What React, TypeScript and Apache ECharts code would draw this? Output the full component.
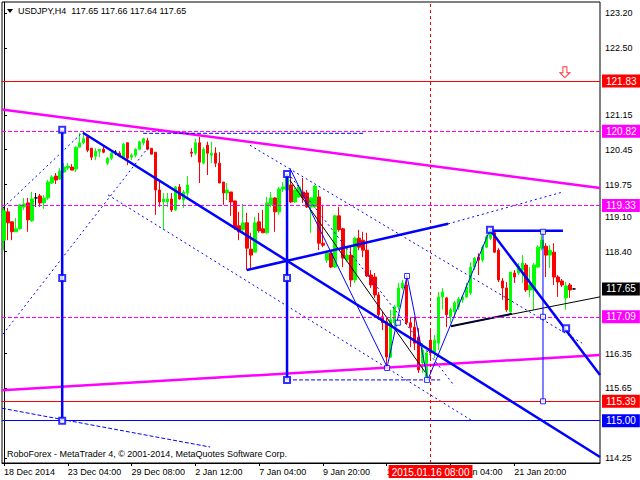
import React, { useEffect, useRef } from "react";
import * as echarts from "echarts";

// ---------- data ----------
const symbolTitle = "USDJPY,H4  117.65 117.66 117.64 117.65";
const watermark = "RoboForex - MetaTrader 4, \u00A9 2001-2014, MetaQuotes Software Corp.";
const barCount = 150; // visible bar slots (4-hour bars), incl. empty space at right
const xTickLabels = [
  "18 Dec 2014", "23 Dec 04:00", "29 Dec 08:00", "2 Jan 12:00", "7 Jan 04:00",
  "9 Jan 20:00", "14 Jan 12:00", "19 Jan 04:00", "21 Jan 20:00",
];
const xTickStep = 16;
const yTickLabels = [123.2, 122.5, 121.15, 120.45, 119.75, 119.1, 118.4, 116.35, 115.65, 114.25];
const yMin = 114.149;
const yMax = 123.421;

// [open, high, low, close]
const ohlc: number[][] = [
  [118.63, 119.30, 118.43, 119.22], [119.20, 119.28, 118.63, 118.98], [119.00, 119.00, 118.63, 118.80],
  [118.80, 119.08, 118.80, 118.86], [118.86, 119.36, 118.84, 119.34], [119.30, 119.48, 119.24, 119.36],
  [119.38, 119.48, 118.80, 119.04], [119.02, 119.60, 119.00, 119.46], [119.48, 119.58, 119.30, 119.48],
  [119.52, 119.56, 119.30, 119.38], [119.38, 119.54, 119.26, 119.48], [119.48, 119.84, 119.44, 119.80],
  [119.78, 119.94, 119.76, 119.90], [119.92, 119.98, 119.76, 119.84], [119.86, 120.08, 119.84, 120.02],
  [120.00, 120.18, 119.98, 120.10], [120.08, 120.18, 120.04, 120.12], [120.10, 120.16, 120.04, 120.04],
  [120.06, 120.52, 120.00, 120.50], [120.50, 120.79, 120.50, 120.59], [120.59, 120.79, 120.56, 120.67],
  [120.71, 120.71, 120.40, 120.44], [120.48, 120.48, 120.24, 120.30], [120.32, 120.48, 120.24, 120.42],
  [120.42, 120.46, 120.30, 120.46], [120.46, 120.52, 120.38, 120.40], [120.18, 120.30, 120.14, 120.28],
  [120.28, 120.40, 120.24, 120.38], [120.40, 120.44, 120.34, 120.40], [120.38, 120.42, 120.30, 120.32],
  [120.30, 120.59, 120.30, 120.56], [120.59, 120.59, 120.14, 120.28], [120.30, 120.38, 120.24, 120.34],
  [120.34, 120.48, 120.30, 120.46], [120.46, 120.63, 120.44, 120.61], [120.59, 120.69, 120.54, 120.67],
  [120.63, 120.69, 120.44, 120.46], [120.48, 120.48, 120.36, 120.36], [120.40, 120.40, 119.14, 119.64],
  [119.64, 119.84, 119.30, 119.40], [119.40, 119.58, 118.84, 119.46], [119.40, 119.58, 119.30, 119.46],
  [119.46, 119.58, 119.20, 119.24], [119.24, 119.72, 119.22, 119.70], [119.70, 119.76, 119.44, 119.46],
  [119.44, 119.64, 119.28, 119.60], [119.58, 119.92, 119.50, 119.74], [120.40, 120.48, 120.30, 120.38],
  [120.38, 120.67, 120.34, 120.59], [120.59, 120.71, 119.78, 120.20], [120.18, 120.50, 120.16, 120.46],
  [120.54, 120.61, 119.94, 120.38], [120.34, 120.61, 120.18, 120.38], [120.38, 120.50, 120.10, 120.18],
  [120.18, 120.40, 119.78, 119.78], [119.80, 119.80, 119.34, 119.58], [119.58, 119.78, 119.44, 119.64],
  [119.60, 119.60, 119.12, 119.40], [119.42, 119.42, 118.84, 118.88], [118.92, 119.20, 118.63, 118.80],
  [118.84, 119.36, 118.78, 118.98], [118.98, 119.18, 118.03, 118.47], [118.45, 118.78, 118.03, 118.33],
  [118.39, 119.10, 118.39, 118.98], [119.00, 119.18, 118.78, 118.82], [118.86, 119.24, 118.78, 118.78],
  [118.78, 119.50, 118.76, 119.38], [119.34, 119.60, 119.30, 119.48], [119.48, 119.50, 118.80, 119.20],
  [119.20, 119.70, 119.14, 119.66], [119.66, 119.80, 119.60, 119.70], [119.64, 119.98, 119.60, 119.88],
  [119.74, 119.90, 119.38, 119.40], [119.40, 119.68, 119.38, 119.64], [119.50, 119.74, 119.48, 119.70],
  [119.60, 119.88, 119.38, 119.48], [119.58, 119.64, 119.28, 119.30], [119.30, 119.50, 118.78, 119.48],
  [119.30, 119.74, 119.28, 119.72], [119.50, 119.64, 118.43, 118.57], [118.57, 119.34, 118.49, 118.53],
  [118.23, 118.39, 118.17, 118.37], [118.37, 118.39, 118.07, 118.09], [118.09, 119.14, 118.07, 119.12],
  [119.12, 119.30, 118.80, 118.84], [118.86, 118.88, 118.09, 118.27], [118.23, 118.47, 118.19, 118.33],
  [118.33, 118.53, 117.69, 117.83], [117.83, 118.70, 117.77, 118.67], [118.67, 118.84, 118.43, 118.49],
  [118.63, 118.80, 118.29, 118.43], [118.43, 118.78, 117.89, 117.91], [117.93, 118.03, 117.67, 117.73],
  [117.89, 117.97, 117.47, 117.53], [117.53, 117.59, 117.03, 117.13], [117.09, 117.19, 116.82, 116.97],
  [116.99, 117.09, 116.08, 116.28], [116.28, 117.23, 116.26, 117.03], [116.97, 117.33, 116.88, 117.29],
  [117.29, 117.77, 117.23, 117.67], [117.67, 117.83, 117.63, 117.77], [117.73, 117.93, 116.93, 116.97],
  [116.97, 117.07, 116.48, 116.88], [116.88, 117.09, 116.42, 116.56], [116.68, 116.86, 115.96, 116.02],
  [116.16, 116.56, 115.96, 116.42], [115.88, 116.40, 115.86, 116.36], [116.62, 116.86, 116.26, 116.36],
  [116.38, 116.72, 116.26, 116.62], [116.56, 117.59, 116.42, 117.49], [117.49, 117.67, 117.23, 117.59],
  [117.47, 117.49, 116.88, 117.13], [117.09, 117.27, 116.97, 117.23], [117.19, 117.41, 117.07, 117.37],
  [117.29, 117.49, 117.23, 117.45], [117.43, 117.53, 117.37, 117.49], [117.49, 117.77, 117.47, 117.69],
  [117.57, 118.19, 117.53, 118.09], [118.09, 118.29, 118.03, 118.27], [118.29, 118.37, 117.93, 118.23],
  [118.23, 118.53, 118.19, 118.49], [118.49, 118.74, 118.47, 118.70], [118.67, 118.88, 118.63, 118.82],
  [118.78, 118.84, 118.37, 118.39], [118.43, 118.47, 117.79, 117.83], [117.81, 117.87, 117.43, 117.67],
  [117.67, 117.79, 117.19, 117.23], [117.19, 117.99, 117.17, 117.99], [117.97, 118.03, 117.77, 117.89],
  [117.97, 118.17, 117.93, 118.11], [118.03, 118.33, 117.77, 118.17], [118.13, 118.17, 117.59, 117.63],
  [117.63, 118.09, 117.49, 117.73], [117.63, 118.17, 117.23, 118.13], [118.09, 118.53, 118.07, 118.49],
  [118.47, 118.80, 118.43, 118.63], [118.51, 118.57, 117.89, 118.33], [118.33, 118.53, 118.07, 118.43],
  [118.39, 118.57, 117.73, 117.89], [117.89, 117.93, 117.49, 117.79], [117.81, 117.85, 117.69, 117.73],
  [117.47, 117.79, 117.23, 117.71], [117.73, 117.77, 117.47, 117.63], [117.65, 117.66, 117.64, 117.65],
];

// horizontal price levels
const levelPrices = [121.83, 120.82, 119.33, 117.09, 115.39, 115.0];
const levelColors = ["#ff0000", "#ff00ff", "#ff00ff", "#ff00ff", "#ff0000", "#0000ff"];
const levelDashed = [false, true, true, true, false, false];
const lastPrice = 117.65;
const markerBarIndex = 107; // vertical line at 2015.01.16 08:00
const markerBarLabel = "2015.01.16 08:00";
const sellArrow = [140.7, 122.01];

// drawn objects, points as [bar index, price]
const magentaLines = [
  [[-0.5, 121.26], [149.5, 119.68]],
  [[-0.5, 115.61], [149.5, 116.32]],
];
const blueThickLines = [
  [[19.8, 120.79], [149.5, 114.27]],
  [[121.9, 118.84], [149.5, 115.92]],
  [[121.9, 118.82], [140.2, 118.82]],
  [[60.9, 118.03], [111.4, 118.96]],
  [[14.6, 120.85], [14.6, 115.0]],
  [[71.0, 119.96], [71.0, 115.82]],
];
const blueThinLines = [
  [[135.2, 118.8], [135.2, 115.39]],
  [[71.7, 120.08], [96.1, 116.08], [101.1, 117.91], [106.3, 115.82], [121.9, 118.84]],
];
const blueDashedLines = [
  [[71.0, 115.82], [109.4, 115.82]],
  [[34.9, 120.78], [90.5, 120.78]],
  [[-0.5, 115.25], [51.7, 114.47]],
];
const blueDottedLines = [
  [[111.4, 118.96], [140.2, 119.6]],
  [[-0.25, 116.74], [36.6, 120.54]],
  [[-0.25, 119.28], [19.6, 120.79]],
  [[26.1, 119.54], [117.4, 115.0]],
  [[61.7, 120.54], [145.0, 116.56]],
  [[72.0, 119.9], [113.0, 115.7]],
];
const blackThinLines = [
  [[71.7, 119.84], [105.6, 115.98]],
  [[112.1, 116.9], [149.5, 117.49]],
];
const blackThickLines = [[[112.1, 116.9], [127.4, 117.15]]];
const bigSquares = [
  [14.6, 120.85], [14.6, 117.87], [14.6, 115.0],
  [71.0, 119.96], [71.0, 117.87], [71.0, 115.82],
  [121.9, 118.84], [141.0, 116.86],
];
const smallSquares = [
  [101.1, 117.91], [98.8, 116.97], [96.1, 116.06], [106.1, 115.82],
  [135.2, 118.8], [135.2, 117.09], [135.2, 115.39],
];

const FONT = "'Liberation Sans', Arial, sans-serif";

function seg(pts: number[][], color: string, width: number, type: any, z = 4) {
  return {
    type: "line",
    xAxisIndex: 1,
    yAxisIndex: 0,
    data: pts,
    symbol: "none",
    silent: true,
    z,
    lineStyle: { color, width, type },
  };
}

function tagLabel(text: string, bg: string) {
  return {
    show: true,
    position: "end",
    distance: 2,
    formatter: text,
    color: "#fff",
    backgroundColor: bg,
    padding: [2, 4, 1, 4],
    fontSize: 10,
    fontFamily: FONT,
  };
}

export default function App() {
  const ref = useRef<HTMLDivElement>(null);
  useEffect(() => {
    const chart = echarts.init(ref.current!, null, { renderer: "svg" });
    const categories = Array.from({ length: barCount }, (_, i) => String(i));
    const candleData = ohlc.map(([o, h, l, c]) => [o, c, l, h]);

    const levelMarks: any[] = levelPrices.map((p, k) => ({
      yAxis: p,
      lineStyle: { color: levelColors[k], width: 1, type: levelDashed[k] ? [4, 2] : "solid" },
      label: tagLabel(p.toFixed(2), levelColors[k]),
    }));
    levelMarks.push({
      xAxis: markerBarIndex,
      lineStyle: { color: "#ff0000", width: 1, type: [3, 3] },
      label: {
        show: true,
        position: "start",
        distance: 2,
        formatter: markerBarLabel,
        color: "#fff",
        backgroundColor: "#ff0000",
        padding: [2, 3, 1, 3],
        fontSize: 10,
        fontFamily: FONT,
      },
    });

    const series: any[] = [
      {
        type: "candlestick",
        xAxisIndex: 0,
        yAxisIndex: 0,
        data: candleData,
        barWidth: 3,
        z: 2,
        itemStyle: {
          color: "#00ff00",
          color0: "#ff0000",
          borderColor: "#00ff00",
          borderColor0: "#ff0000",
          borderColorDoji: "#000000",
          borderWidth: 1,
        },
        markLine: {
          symbol: ["none", "none"],
          silent: true,
          animation: false,
          data: levelMarks,
        },
      },
      {
        type: "line",
        xAxisIndex: 1,
        yAxisIndex: 0,
        data: [],
        silent: true,
        z: 7,
        markLine: {
          symbol: ["none", "none"],
          silent: true,
          animation: false,
          data: [
            {
              yAxis: lastPrice,
              lineStyle: { color: "rgba(0,0,0,0)", width: 1 },
              label: tagLabel(lastPrice.toFixed(2), "#000000"),
            },
          ],
        },
      },
    ];
    magentaLines.forEach((l) => series.push(seg(l, "#ff00ff", 2.5, "solid", 3)));
    blueDottedLines.forEach((l) => series.push(seg(l, "#0000ff", 1, [2, 3], 4)));
    blueDashedLines.forEach((l) => series.push(seg(l, "#0000ff", 1, [4, 2], 4)));
    blackThinLines.forEach((l) => series.push(seg(l, "#000000", 1, "solid", 4)));
    blackThickLines.forEach((l) => series.push(seg(l, "#000033", 2, "solid", 4)));
    blueThinLines.forEach((l) => series.push(seg(l, "#0000ff", 1, "solid", 5)));
    blueThickLines.forEach((l) => series.push(seg(l, "#0000ff", 2.5, "solid", 5)));
    series.push({
      type: "scatter",
      xAxisIndex: 1,
      yAxisIndex: 0,
      data: bigSquares,
      symbol: "rect",
      symbolSize: 6,
      silent: true,
      z: 6,
      itemStyle: { color: "#ffffff", borderColor: "#0000ff", borderWidth: 2 },
    });
    series.push({
      type: "scatter",
      xAxisIndex: 1,
      yAxisIndex: 0,
      data: smallSquares,
      symbol: "rect",
      symbolSize: 5,
      silent: true,
      z: 6,
      itemStyle: { color: "#ffffff", borderColor: "#0000ff", borderWidth: 1 },
    });
    series.push({
      type: "scatter",
      xAxisIndex: 1,
      yAxisIndex: 0,
      data: [sellArrow],
      symbol: "path://M3 0L7 0L7 6L10 6L5 11L0 6L3 6Z",
      symbolSize: [10, 11],
      silent: true,
      z: 6,
      itemStyle: { color: "#ffffff", borderColor: "#ff0000", borderWidth: 1 },
    });

    chart.setOption({
      animation: false,
      backgroundColor: "#ffffff",
      textStyle: { fontFamily: FONT },
      grid: {
        left: 2,
        right: 40,
        top: 2,
        bottom: 17,
        show: true,
        borderColor: "#000",
        borderWidth: 1,
        backgroundColor: "#fff",
      },
      xAxis: [
        {
          type: "category",
          data: categories,
          boundaryGap: true,
          axisLine: { show: true, lineStyle: { color: "#000" } },
          axisTick: {
            show: true,
            alignWithLabel: true,
            length: 3,
            interval: (i: number) => i % xTickStep === 0 && i / xTickStep < xTickLabels.length,
            lineStyle: { color: "#000" },
          },
          axisLabel: {
            show: true,
            interval: (i: number) => i % xTickStep === 0 && i / xTickStep < xTickLabels.length,
            formatter: (_v: string, i: number) => xTickLabels[i / xTickStep] ?? "",
            align: "left",
            margin: 4,
            color: "#000",
            fontSize: 9,
            fontFamily: FONT,
          },
          splitLine: { show: false },
        },
        {
          type: "value",
          min: -0.5,
          max: barCount - 0.5,
          show: false,
          splitLine: { show: false },
        },
      ],
      yAxis: [
        {
          type: "value",
          position: "right",
          min: yMin,
          max: yMax,
          scale: true,
          axisLine: { show: true, lineStyle: { color: "#000" } },
          axisTick: { show: true, length: 3, customValues: yTickLabels, lineStyle: { color: "#000" } },
          axisLabel: {
            show: true,
            customValues: yTickLabels,
            formatter: (v: number) => v.toFixed(2),
            margin: 5,
            color: "#000",
            fontSize: 9,
            fontFamily: FONT,
          },
          splitLine: { show: false },
        },
      ],
      graphic: [
        {
          type: "polygon",
          shape: { points: [[7, 9], [13, 9], [10, 13]] },
          style: { fill: "#000" },
          z: 100,
        },
        {
          type: "text",
          left: 18,
          top: 6,
          style: { text: symbolTitle, fill: "#000", font: `9px ${FONT}` },
          z: 100,
        },
        {
          type: "text",
          left: 7,
          top: 449,
          style: { text: watermark, fill: "#000", font: `9px ${FONT}` },
          z: 100,
        },
      ],
      series,
    });
    return () => chart.dispose();
  }, []);
  return (
    <div
      ref={ref}
      style={{ position: "fixed", left: 0, top: 0, width: 640, height: 480, background: "#fff" }}
    />
  );
}
